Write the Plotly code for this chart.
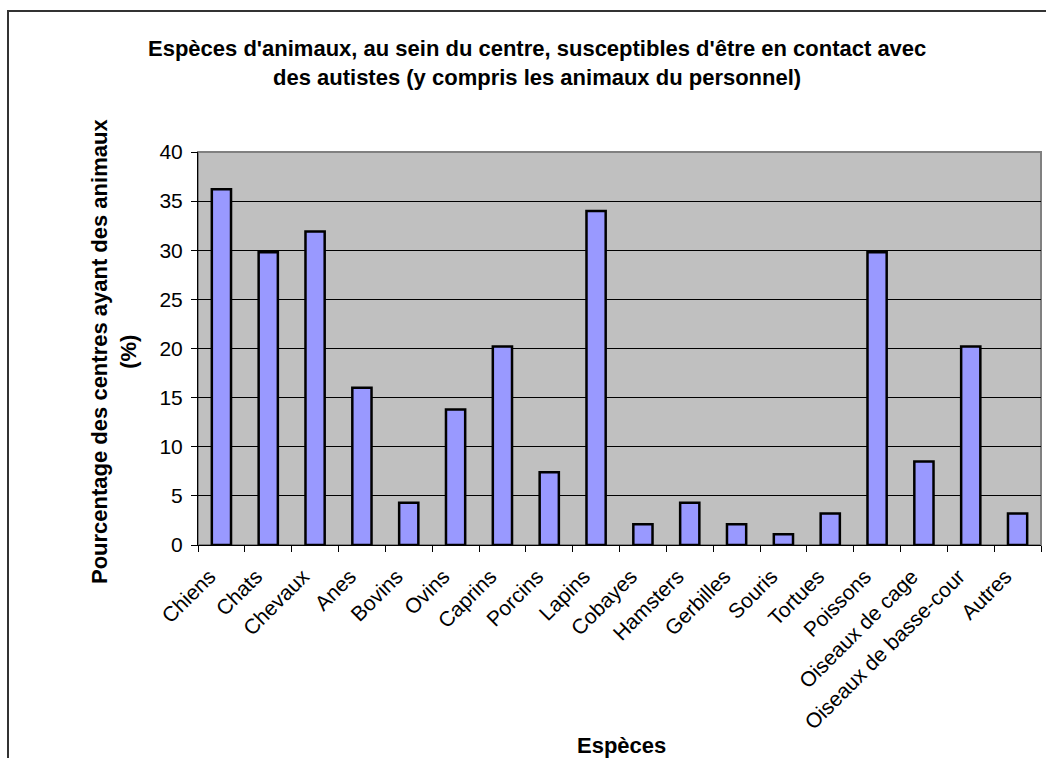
import plotly.graph_objects as go

categories = ["Chiens", "Chats", "Chevaux", "Anes", "Bovins", "Ovins", "Caprins",
              "Porcins", "Lapins", "Cobayes", "Hamsters", "Gerbilles", "Souris",
              "Tortues", "Poissons", "Oiseaux de cage", "Oiseaux de basse-cour", "Autres"]
values = [36.2, 29.8, 31.9, 16.0, 4.3, 13.8, 20.2, 7.4, 34.0, 2.1, 4.3, 2.1, 1.1,
          3.2, 29.8, 8.5, 20.2, 3.2]
y_ticks = [0, 5, 10, 15, 20, 25, 30, 35, 40]

title_line1 = "Espèces d'animaux, au sein du centre, susceptibles d'être en contact avec"
title_line2 = "des autistes (y compris les animaux du personnel)"
y_title = "Pourcentage des centres ayant des animaux<br>(%)"
x_title = "Espèces"

FONT = "Arial, 'Liberation Sans', sans-serif"
W, H = 1046, 758
L, R, T, B = 198, 5, 152, 213
PW, PH = W - L - R, H - T - B


def px_x(p):
    return (p - L) / PW


def px_y(p):
    return (H - p - B) / PH


fig = go.Figure()
fig.add_trace(go.Bar(
    x=categories, y=values,
    marker=dict(color="#9999FF", line=dict(color="#000000", width=2.5)),
    width=0.41,
))

fig.update_layout(
    width=W, height=H,
    margin=dict(l=L, r=R, t=T, b=B, pad=0),
    paper_bgcolor="white",
    plot_bgcolor="#C0C0C0",
    showlegend=False,
    font=dict(family=FONT, size=21, color="black"),
    bargap=0.59,
)

fig.update_xaxes(
    type="category",
    tickangle=-45,
    ticks="outside", ticklen=6, tickcolor="#000000", tickwidth=1,
    tickson="boundaries",
    showline=True, linecolor="#000000", linewidth=1,
    showgrid=False,
    tickfont=dict(family=FONT, size=21, color="black"),
    ticklabelstandoff=10,
    ticklabelshift=-12,
    range=[-0.5, len(categories) - 0.5],
)
fig.update_yaxes(
    range=[0, 40],
    tickvals=y_ticks,
    ticks="outside", ticklen=6, tickcolor="#000000", tickwidth=1,
    showline=True, linecolor="#000000", linewidth=1,
    showgrid=True, gridcolor="#000000", gridwidth=1,
    zeroline=False,
    tickfont=dict(family=FONT, size=21, color="black"),
    ticklabelstandoff=4,
)

# plot area border (gray) and chart border
fig.add_shape(type="rect", xref="paper", yref="paper", x0=0, x1=1, y0=0, y1=1,
              line=dict(color="#808080", width=2), layer="below")
fig.add_shape(type="rect", xref="paper", yref="paper",
              x0=px_x(8), x1=px_x(1060), y0=px_y(780), y1=px_y(11),
              line=dict(color="#333333", width=2), layer="above")

fig.add_annotation(text="<b>" + title_line1 + "</b>", xref="paper", yref="paper",
                   x=px_x(537), y=px_y(48), showarrow=False,
                   xanchor="center", yanchor="middle",
                   font=dict(family=FONT, size=22, color="black"))
fig.add_annotation(text="<b>" + title_line2 + "</b>", xref="paper", yref="paper",
                   x=px_x(537), y=px_y(77), showarrow=False,
                   xanchor="center", yanchor="middle",
                   font=dict(family=FONT, size=22, color="black"))
fig.add_annotation(text="<b>" + y_title + "</b>", xref="paper", yref="paper",
                   x=px_x(114), y=px_y(352), showarrow=False, textangle=-90,
                   xanchor="center", yanchor="middle",
                   font=dict(family=FONT, size=22, color="black"))
fig.add_annotation(text="<b>" + x_title + "</b>", xref="paper", yref="paper",
                   x=px_x(621), y=px_y(745), showarrow=False,
                   xanchor="center", yanchor="middle",
                   font=dict(family=FONT, size=22, color="black"))

fig.write_html("out.html")
